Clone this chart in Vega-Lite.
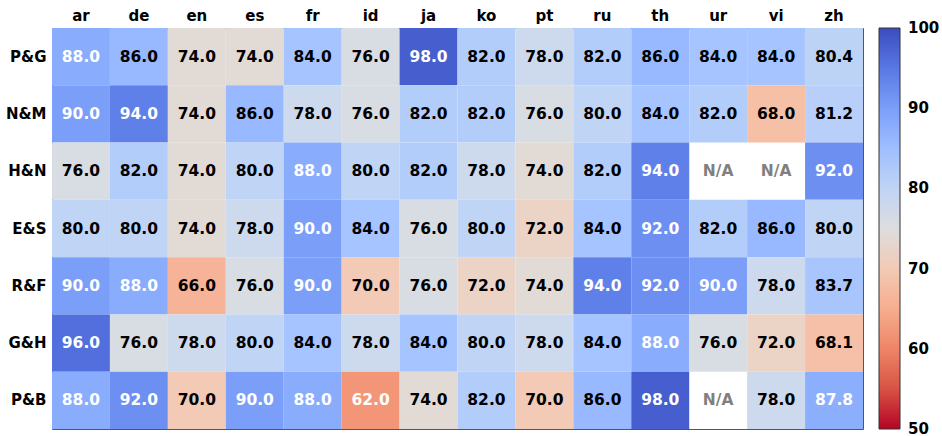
{
  "$schema": "https://vega.github.io/schema/vega-lite/v6.json",
  "width": 811,
  "height": 401,
  "autosize": "none",
  "padding": {"left": 52, "top": 28, "right": 79, "bottom": 7},
  "background": "white",
  "config": {
    "view": {"stroke": "#555555", "strokeWidth": 1},
    "font": "DejaVu Sans"
  },
  "data": {
    "values": [
      {"r": "P&G", "c": "ar", "v": 88}, {"r": "P&G", "c": "de", "v": 86}, {"r": "P&G", "c": "en", "v": 74}, {"r": "P&G", "c": "es", "v": 74}, {"r": "P&G", "c": "fr", "v": 84}, {"r": "P&G", "c": "id", "v": 76}, {"r": "P&G", "c": "ja", "v": 98}, {"r": "P&G", "c": "ko", "v": 82}, {"r": "P&G", "c": "pt", "v": 78}, {"r": "P&G", "c": "ru", "v": 82}, {"r": "P&G", "c": "th", "v": 86}, {"r": "P&G", "c": "ur", "v": 84}, {"r": "P&G", "c": "vi", "v": 84}, {"r": "P&G", "c": "zh", "v": 80.4},
      {"r": "N&M", "c": "ar", "v": 90}, {"r": "N&M", "c": "de", "v": 94}, {"r": "N&M", "c": "en", "v": 74}, {"r": "N&M", "c": "es", "v": 86}, {"r": "N&M", "c": "fr", "v": 78}, {"r": "N&M", "c": "id", "v": 76}, {"r": "N&M", "c": "ja", "v": 82}, {"r": "N&M", "c": "ko", "v": 82}, {"r": "N&M", "c": "pt", "v": 76}, {"r": "N&M", "c": "ru", "v": 80}, {"r": "N&M", "c": "th", "v": 84}, {"r": "N&M", "c": "ur", "v": 82}, {"r": "N&M", "c": "vi", "v": 68}, {"r": "N&M", "c": "zh", "v": 81.2},
      {"r": "H&N", "c": "ar", "v": 76}, {"r": "H&N", "c": "de", "v": 82}, {"r": "H&N", "c": "en", "v": 74}, {"r": "H&N", "c": "es", "v": 80}, {"r": "H&N", "c": "fr", "v": 88}, {"r": "H&N", "c": "id", "v": 80}, {"r": "H&N", "c": "ja", "v": 82}, {"r": "H&N", "c": "ko", "v": 78}, {"r": "H&N", "c": "pt", "v": 74}, {"r": "H&N", "c": "ru", "v": 82}, {"r": "H&N", "c": "th", "v": 94}, {"r": "H&N", "c": "ur", "v": null}, {"r": "H&N", "c": "vi", "v": null}, {"r": "H&N", "c": "zh", "v": 92},
      {"r": "E&S", "c": "ar", "v": 80}, {"r": "E&S", "c": "de", "v": 80}, {"r": "E&S", "c": "en", "v": 74}, {"r": "E&S", "c": "es", "v": 78}, {"r": "E&S", "c": "fr", "v": 90}, {"r": "E&S", "c": "id", "v": 84}, {"r": "E&S", "c": "ja", "v": 76}, {"r": "E&S", "c": "ko", "v": 80}, {"r": "E&S", "c": "pt", "v": 72}, {"r": "E&S", "c": "ru", "v": 84}, {"r": "E&S", "c": "th", "v": 92}, {"r": "E&S", "c": "ur", "v": 82}, {"r": "E&S", "c": "vi", "v": 86}, {"r": "E&S", "c": "zh", "v": 80},
      {"r": "R&F", "c": "ar", "v": 90}, {"r": "R&F", "c": "de", "v": 88}, {"r": "R&F", "c": "en", "v": 66}, {"r": "R&F", "c": "es", "v": 76}, {"r": "R&F", "c": "fr", "v": 90}, {"r": "R&F", "c": "id", "v": 70}, {"r": "R&F", "c": "ja", "v": 76}, {"r": "R&F", "c": "ko", "v": 72}, {"r": "R&F", "c": "pt", "v": 74}, {"r": "R&F", "c": "ru", "v": 94}, {"r": "R&F", "c": "th", "v": 92}, {"r": "R&F", "c": "ur", "v": 90}, {"r": "R&F", "c": "vi", "v": 78}, {"r": "R&F", "c": "zh", "v": 83.7},
      {"r": "G&H", "c": "ar", "v": 96}, {"r": "G&H", "c": "de", "v": 76}, {"r": "G&H", "c": "en", "v": 78}, {"r": "G&H", "c": "es", "v": 80}, {"r": "G&H", "c": "fr", "v": 84}, {"r": "G&H", "c": "id", "v": 78}, {"r": "G&H", "c": "ja", "v": 84}, {"r": "G&H", "c": "ko", "v": 80}, {"r": "G&H", "c": "pt", "v": 78}, {"r": "G&H", "c": "ru", "v": 84}, {"r": "G&H", "c": "th", "v": 88}, {"r": "G&H", "c": "ur", "v": 76}, {"r": "G&H", "c": "vi", "v": 72}, {"r": "G&H", "c": "zh", "v": 68.1},
      {"r": "P&B", "c": "ar", "v": 88}, {"r": "P&B", "c": "de", "v": 92}, {"r": "P&B", "c": "en", "v": 70}, {"r": "P&B", "c": "es", "v": 90}, {"r": "P&B", "c": "fr", "v": 88}, {"r": "P&B", "c": "id", "v": 62}, {"r": "P&B", "c": "ja", "v": 74}, {"r": "P&B", "c": "ko", "v": 82}, {"r": "P&B", "c": "pt", "v": 70}, {"r": "P&B", "c": "ru", "v": 86}, {"r": "P&B", "c": "th", "v": 98}, {"r": "P&B", "c": "ur", "v": null}, {"r": "P&B", "c": "vi", "v": 78}, {"r": "P&B", "c": "zh", "v": 87.8}
    ]
  },
  "encoding": {
    "x": {
      "field": "c", "type": "nominal", "sort": ["ar","de","en","es","fr","id","ja","ko","pt","ru","th","ur","vi","zh"],
      "scale": {"paddingInner": 0, "paddingOuter": 0},
      "axis": {"orient": "top", "title": null, "ticks": false, "domain": false, "labelAngle": 0, "labelPadding": 5, "labelFont": "DejaVu Sans", "labelFontWeight": "bold", "labelFontSize": 15, "labelColor": "black"}
    },
    "y": {
      "field": "r", "type": "nominal", "sort": ["P&G","N&M","H&N","E&S","R&F","G&H","P&B"],
      "scale": {"paddingInner": 0, "paddingOuter": 0},
      "axis": {"title": null, "ticks": false, "domain": false, "labelPadding": 6, "labelFont": "DejaVu Sans", "labelFontWeight": "bold", "labelFontSize": 15, "labelColor": "black"}
    }
  },
  "layer": [
    {
      "transform": [{"filter": "datum.v != null"}],
      "mark": {"type": "rect", "strokeWidth": 0},
      "encoding": {
        "color": {
          "field": "v", "type": "quantitative",
          "scale": {
            "interpolate": "rgb",
            "domain": [49.98, 51.5625, 53.125, 54.6875, 56.25, 57.8125, 59.375, 60.9375, 62.5, 64.0625, 65.625, 67.1875, 68.75, 70.3125, 71.875, 73.4375, 75, 76.5625, 78.125, 79.6875, 81.25, 82.8125, 84.375, 85.9375, 87.5, 89.0625, 90.625, 92.1875, 93.75, 95.3125, 96.875, 98.4375, 100.02],
            "range": ["rgb(180,4,38)", "rgb(192,40,47)", "rgb(203,62,56)", "rgb(213,80,66)", "rgb(222,96,77)", "rgb(229,112,88)", "rgb(236,127,99)", "rgb(241,141,111)", "rgb(244,154,123)", "rgb(247,166,135)", "rgb(247,177,148)", "rgb(247,187,160)", "rgb(245,196,173)", "rgb(241,204,184)", "rgb(236,211,197)", "rgb(229,216,209)", "rgb(221,221,221)", "rgb(213,219,230)", "rgb(204,217,238)", "rgb(194,213,244)", "rgb(184,208,249)", "rgb(174,201,253)", "rgb(163,194,255)", "rgb(152,185,255)", "rgb(141,176,254)", "rgb(130,165,251)", "rgb(119,154,247)", "rgb(108,142,241)", "rgb(98,130,234)", "rgb(87,117,225)", "rgb(77,104,215)", "rgb(68,90,204)", "rgb(59,76,192)"]
          },
          "legend": {
            "orient": "none", "legendX": 827, "legendY": 0, "direction": "vertical",
            "title": null, "gradientLength": 401, "gradientThickness": 21,
            "gradientStrokeColor": "#333333", "gradientStrokeWidth": 1,
            "values": [50, 60, 70, 80, 90, 100],
            "labelFont": "DejaVu Sans", "labelFontWeight": "bold", "labelFontSize": 15, "labelColor": "black",
            "labelOffset": 8, "labelBaseline": "middle", "labelOverlap": false
          }
        }
      }
    },
    {
      "transform": [{"filter": "datum.v != null"}],
      "mark": {"type": "text", "font": "DejaVu Sans", "fontWeight": "bold", "fontSize": 15.5, "baseline": "middle"},
      "encoding": {
        "text": {"field": "v", "type": "quantitative", "format": ".1f"},
        "color": {"condition": {"test": "datum.v >= 87.5 || datum.v <= 62.5", "value": "white"}, "value": "black"}
      }
    },
    {
      "transform": [{"filter": "datum.v == null"}],
      "mark": {"type": "text", "font": "DejaVu Sans", "fontWeight": "bold", "fontSize": 15.5, "baseline": "middle", "color": "#808080", "text": "N/A"},
      "encoding": {}
    }
  ]
}
